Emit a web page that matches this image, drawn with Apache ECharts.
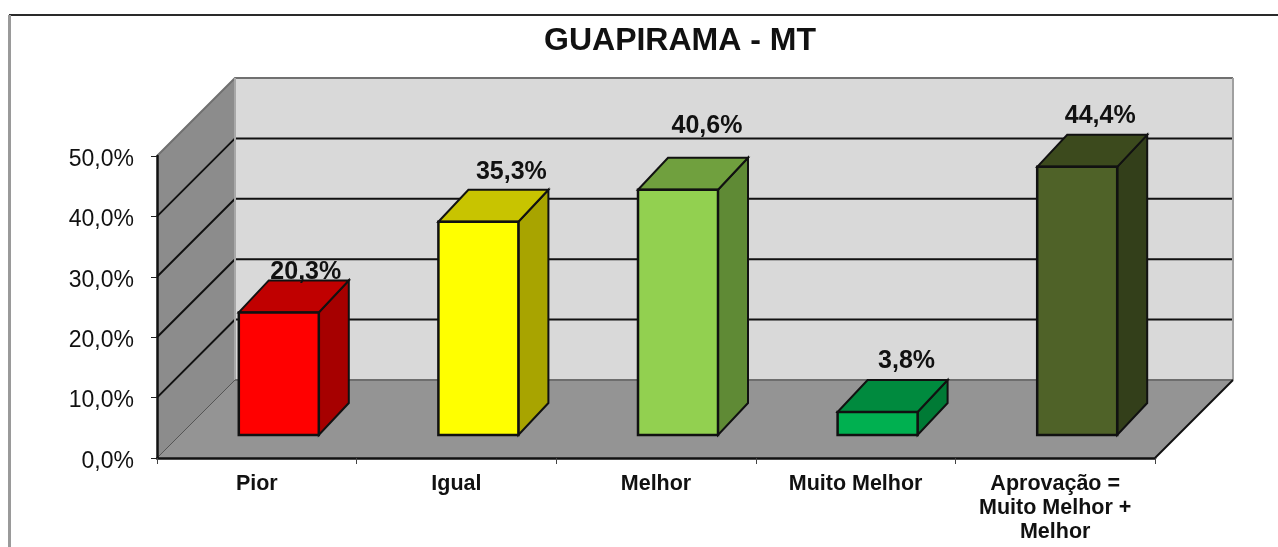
<!DOCTYPE html>
<html lang="en">
<head>
<meta charset="UTF-8">
<title>GUAPIRAMA - MT</title>
<style>
    html, body { margin: 0; padding: 0; background: #fff; }
    #main { width: 1278px; height: 547px; }
</style>
<script src="https://cdn.jsdelivr.net/npm/echarts@6/dist/echarts.min.js"></script>
</head>
<body>
<div id="main"></div>
<script>
var categories = ['Pior', 'Igual', 'Melhor', 'Muito Melhor', 'Aprovação =\nMuito Melhor +\nMelhor'];
var values = [20.3, 35.3, 40.6, 3.8, 44.4];
var yTicks = [0, 10, 20, 30, 40, 50];

var frontColors = ['#ff0000', '#ffff00', '#92d050', '#00b050', '#4f6228'];
var topColors = ['#c00000', '#c8c400', '#70a03e', '#008a3e', '#3c4a1d'];
var sideColors = ['#a60000', '#a8a400', '#5f8a35', '#007a35', '#333f1a'];

// the labels were placed by hand in the original, so each has its own nudge
var labelDx = [27, 33, 29, 29, 23];
var labelDy = [-40, -50, -64, -51, -51];

var wallDepth = 78;
var barHalf = 40, barDx = 22, barDy = 23, barDepthX = 30, barDepthY = 32;

function poly(points, fill, stroke, width) {
    return {
        type: 'polygon',
        shape: { points: points },
        style: { fill: fill, stroke: stroke || null, lineWidth: width || 0 }
    };
}

function renderWalls(params, api) {
    var cs = params.coordSys;
    var l = cs.x, r = cs.x + cs.width, b = cs.y + cs.height, t = cs.y, d = wallDepth;
    var kids = [
        poly([[l + d, t - d], [r + d, t - d], [r + d, b - d], [l + d, b - d]], '#d9d9d9'),
        poly([[l, t], [l + d, t - d], [l + d, b - d], [l, b]], '#8c8c8c'),
        poly([[l, b], [l + d, b - d], [r + d, b - d], [r, b]], '#949494')
    ];
    yTicks.forEach(function (v) {
        if (v === 0 || v === 50) return;
        var y = api.coord([0, v])[1];
        kids.push({
            type: 'polyline',
            shape: { points: [[l, y], [l + d, y - d], [r + d, y - d]] },
            style: { fill: null, stroke: '#111', lineWidth: 2 }
        });
    });
    var edge = function (pts, color, w) {
        kids.push({ type: 'polyline', shape: { points: pts }, style: { fill: null, stroke: color, lineWidth: w } });
    };
    edge([[l, t], [l + d, t - d], [r + d, t - d]], '#707070', 2);
    edge([[r + d, t - d], [r + d, b - d]], '#a0a0a0', 2);
    edge([[l + d, t - d], [l + d, b - d]], '#a8a8a8', 2);
    edge([[l + d, b - d], [r + d, b - d]], '#6e6e6e', 2);
    edge([[l, b], [l + d, b - d]], '#555', 1);
    edge([[r, b], [r + d, b - d]], '#111', 2);
    return { type: 'group', children: kids };
}

function renderBar(params, api) {
    var i = api.value(0);
    var top = api.coord([i, api.value(1)]);
    var base = api.coord([i, 0]);
    var x0 = top[0] + barDx - barHalf, x1 = top[0] + barDx + barHalf;
    var y0 = top[1] - barDy, y1 = base[1] - barDy;
    var dx = barDepthX, dy = barDepthY;
    var line = '#111';
    return {
        type: 'group',
        children: [
            poly([[x1, y0], [x1 + dx, y0 - dy], [x1 + dx, y1 - dy], [x1, y1]], sideColors[i], line, 2),
            poly([[x0, y0], [x0 + dx, y0 - dy], [x1 + dx, y0 - dy], [x1, y0]], topColors[i], line, 2),
            poly([[x0, y0], [x1, y0], [x1, y1], [x0, y1]], frontColors[i], line, 2.5),
            {
                type: 'text',
                x: top[0] + barDx + labelDx[i],
                y: y0 + labelDy[i],
                style: {
                    text: api.value(1).toFixed(1).replace('.', ',') + '%',
                    fill: '#111',
                    font: 'bold 25px "Liberation Sans"',
                    textAlign: 'center',
                    textVerticalAlign: 'middle'
                }
            }
        ]
    };
}

var myChart = echarts.init(document.getElementById('main'), null, { renderer: 'canvas' });
myChart.setOption({
    animation: false,
    backgroundColor: '#ffffff',
    textStyle: { fontFamily: '"Liberation Sans"' },
    title: {
        text: 'GUAPIRAMA - MT',
        left: 675,
        top: 20,
        textAlign: 'center',
        textStyle: { fontSize: 32, fontWeight: 'bold', color: '#111', fontFamily: '"Liberation Sans"' }
    },
    graphic: [
        { type: 'line', shape: { x1: 9, y1: 15, x2: 1278, y2: 15 }, style: { stroke: '#2a2a2a', lineWidth: 2 } },
        { type: 'line', shape: { x1: 9.5, y1: 15, x2: 9.5, y2: 547 }, style: { stroke: '#9a9a9a', lineWidth: 3 } }
    ],
    grid: { left: 157, right: 123, top: 156, bottom: 89 },
    xAxis: {
        type: 'category',
        data: categories,
        z: 10,
        axisLine: { lineStyle: { color: '#111', width: 2.5 } },
        axisTick: { show: true, length: 6, alignWithLabel: false, lineStyle: { color: '#444', width: 1 } },
        axisLabel: {
            interval: 0,
            margin: 14,
            fontSize: 21.5,
            fontWeight: 'bold',
            lineHeight: 24,
            color: '#111',
            fontFamily: '"Liberation Sans"'
        },
        splitLine: { show: false }
    },
    yAxis: {
        type: 'value',
        min: 0,
        max: 50,
        interval: 10,
        z: 10,
        axisLine: { show: true, lineStyle: { color: '#111', width: 2.5 } },
        axisTick: { show: true, length: 6, lineStyle: { color: '#222', width: 1 } },
        axisLabel: {
            margin: 23,
            fontSize: 23,
            verticalAlign: 'top',
            lineHeight: 7,
            color: '#111',
            fontFamily: '"Liberation Sans"',
            formatter: function (v) { return v.toFixed(1).replace('.', ',') + '%'; }
        },
        splitLine: { show: false }
    },
    series: [
        { type: 'custom', name: 'walls', z: 1, silent: true, clip: false, renderItem: renderWalls, data: [[0, 0]] },
        {
            type: 'custom',
            name: 'valores',
            z: 3,
            clip: false,
            renderItem: renderBar,
            encode: { x: 0, y: 1 },
            data: values.map(function (v, i) { return [i, v]; })
        }
    ]
});
</script>
</body>
</html>
